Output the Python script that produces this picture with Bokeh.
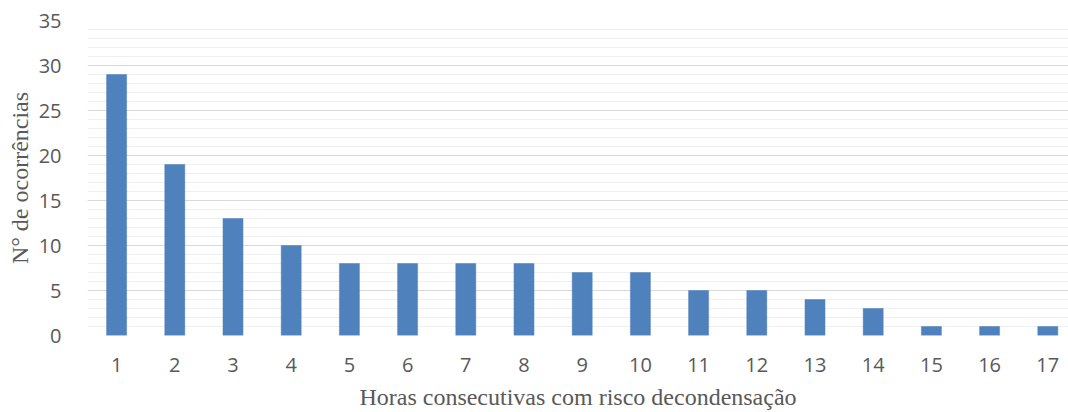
from bokeh.plotting import figure
from bokeh.models import Range1d, FixedTicker, SingleIntervalTicker, ColumnDataSource
from bokeh.embed import file_html
from bokeh.resources import INLINE

hours = list(range(1, 18))
occurrences = [29, 19, 13, 10, 8, 8, 8, 8, 7, 7, 5, 5, 4, 3, 1, 1, 1]
x_title = "Horas consecutivas com risco decondensação"
y_title = "N° de ocorrências"

src = ColumnDataSource(dict(x=hours, y=occurrences))

W, H = 1068, 412
left, top, bottom = 87, 20, 77
step = 58.2
x_end = 0.5 + (W - left) / step

p = figure(width=W, height=H, output_backend="svg", toolbar_location=None,
           x_range=Range1d(0.5, x_end), y_range=Range1d(0, 35),
           min_border_left=left, min_border_right=0, min_border_top=top,
           min_border_bottom=bottom)
p.outline_line_color = None
p.background_fill_color = "white"
p.border_fill_color = "white"

p.vbar(x="x", top="y", width=0.344, source=src, fill_color="#4F81BD",
       line_color="#4F81BD", line_width=0.5)

p.xaxis.ticker = FixedTicker(ticks=hours)
p.yaxis.ticker = SingleIntervalTicker(interval=5, num_minor_ticks=5)

for ax in (p.xaxis[0], p.yaxis[0]):
    ax.axis_line_color = None
    ax.major_tick_line_color = None
    ax.minor_tick_line_color = None
    ax.major_label_text_font = "Open Sans"
    ax.major_label_text_font_size = "20px"
    ax.major_label_text_color = "#595959"
    ax.axis_label_text_font = "Liberation Serif"
    ax.axis_label_text_font_size = "24px"
    ax.axis_label_text_font_style = "normal"
    ax.axis_label_text_color = "#595959"

p.xaxis.axis_label = x_title
p.yaxis.axis_label = y_title
p.xaxis.major_label_standoff = 16
p.xaxis.axis_label_standoff = 9
p.yaxis.major_label_standoff = 20
p.yaxis.axis_label_standoff = 3

p.xgrid.grid_line_color = None
p.ygrid.grid_line_color = "#D9D9D9"
p.ygrid.grid_line_width = 1
p.ygrid.minor_grid_line_color = "#EFEFEF"
p.ygrid.minor_grid_line_width = 1

open("out.html", "w").write(file_html(p, INLINE))
